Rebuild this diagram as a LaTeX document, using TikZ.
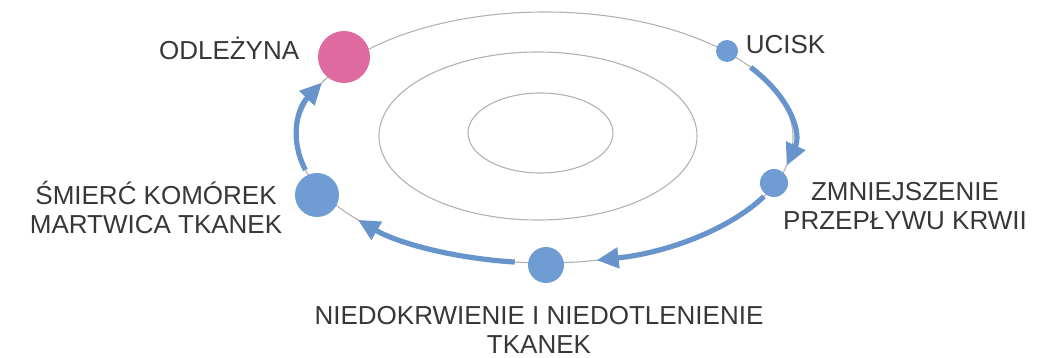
\documentclass[tikz,border=0pt]{standalone}
\usepackage{fontspec}
\setmainfont{Liberation Sans}
\usepackage{xcolor}
\usetikzlibrary{arrows.meta,positioning,calc}
\definecolor{sorecycle}{RGB}{112, 156, 212}
\definecolor{sorearrow}{RGB}{104, 148, 204}
\definecolor{sorepink}{RGB}{222, 106, 160}
\definecolor{soreline}{RGB}{178, 178, 178}
\definecolor{soretext}{RGB}{55, 55, 55}

\begin{document}
\begin{tikzpicture}[
    x=0.5pt, y=0.5pt,
    every node/.style={font=\fontsize{13pt}{14.5pt}\selectfont, align=center, text=soretext},
    stage/.style={circle, fill=sorecycle, inner sep=0pt},
    wound/.style={circle, fill=sorepink, inner sep=0pt},
    lbl/.style={inner sep=0pt},
    orbit/.style={draw=soreline, line width=0.55pt},
    cyclearrow/.style={-{Triangle[length=11pt, width=10pt]}, line width=2.6pt, draw=sorearrow}
]
    \useasboundingbox (0,0) rectangle (1056,358);

    % rings
    \coordinate (mid) at (545,220.5);
    \draw[orbit] (mid) ellipse [x radius=248, y radius=125.5];
    \draw[orbit] (538,222) ellipse [x radius=159, y radius=84];
    \draw[orbit] (540.5,225) ellipse [x radius=72.5, y radius=40];

    % arrows along the outer ring
    \draw[cyclearrow] ($(mid)+(34:248 and 125.5)$) arc [start angle=34, end angle=-13, x radius=248, y radius=125.5];
    \draw[cyclearrow] ($(mid)+(-28:248 and 125.5)$) arc [start angle=-28, end angle=-78, x radius=248, y radius=125.5];
    \draw[cyclearrow] ($(mid)+(-97:248 and 125.5)$) arc [start angle=-97, end angle=-139, x radius=248, y radius=125.5];
    \draw[cyclearrow] ($(mid)+(195:248 and 125.5)$) arc [start angle=195, end angle=154, x radius=248, y radius=125.5];

    % stages
    \node[wound, minimum size=26pt] (odl) at (344,301) {};
    \node[stage, minimum size=11pt] (uci) at (727,307) {};
    \node[stage, minimum size=14pt] (zmn) at (774,175) {};
    \node[stage, minimum size=18pt] (nie) at (546,93) {};
    \node[stage, minimum size=22pt] (smi) at (317,163) {};

    % labels
    \node[lbl, left=9pt of odl, yshift=4.5pt] (odltxt) {ODLEŻYNA};
    \node[lbl, right=3.5pt of uci, yshift=3pt] (ucitxt) {UCISK};
    \node[lbl] (zmntxt) at (905,152) {ZMNIEJSZENIE \\ PRZEPŁYWU KRWII};
    \node[lbl, below=11.5pt of nie, xshift=-3.5pt] (nietxt) {NIEDOKRWIENIE I NIEDOTLENIENIE \\ TKANEK};
    \node[lbl, left=6pt of smi, yshift=-6pt] (smitxt) {ŚMIERĆ KOMÓREK \\ MARTWICA TKANEK};
\end{tikzpicture}
\end{document}
